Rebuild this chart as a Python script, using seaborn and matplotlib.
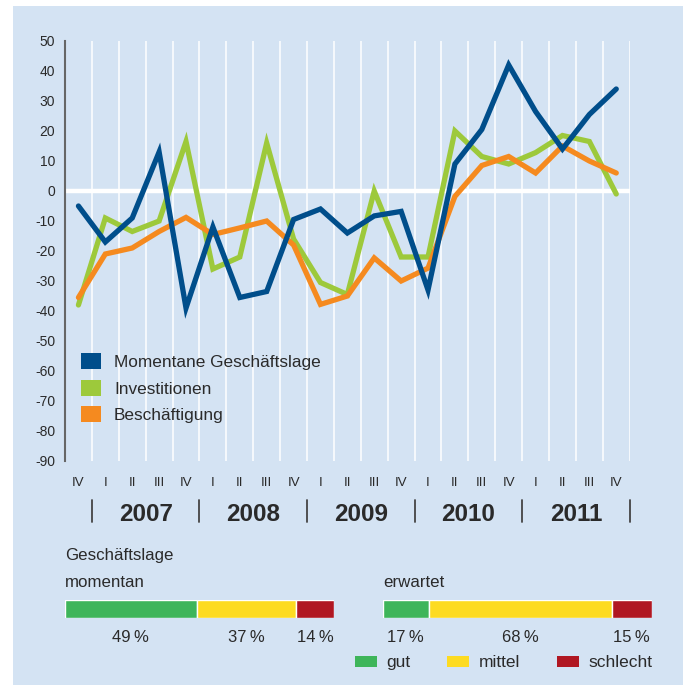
import numpy as np
import pandas as pd
import matplotlib
matplotlib.use("Agg")
import matplotlib.pyplot as plt
import seaborn as sns
from matplotlib.patches import Patch, Rectangle
from matplotlib.transforms import blended_transform_factory

# --- data ---
quartale = ["IV", "I", "II", "III", "IV", "I", "II", "III", "IV", "I", "II", "III",
            "IV", "I", "II", "III", "IV", "I", "II", "III", "IV"]
jahre = ["2007", "2008", "2009", "2010", "2011"]

geschaeftslage = [-5, -17, -9, 13, -39, -12, -35.5, -33.5, -9.5, -6, -14, -8.3,
                  -6.8, -33, 9, 20.5, 42, 26.5, 14, 25.5, 34]
investitionen = [-38, -9, -13.5, -10, 16.5, -26, -22, 16, -16, -30.5, -34.5, 0,
                 -22, -22, 20, 11.5, 9, 12.8, 18.5, 16.5, -1]
beschaeftigung = [-35.5, -21, -19, -13.5, -8.8, -14.5, -12.3, -10, -18, -37.8, -35, -22.3,
                  -30, -25.7, -1.8, 8.5, 11.5, 6, 15, 10, 6]

anteil_labels = ["gut", "mittel", "schlecht"]
momentan = [49, 37, 14]
erwartet = [17, 68, 15]

BG = "#d4e3f3"
TXT = "#2a2a2a"
serien_farben = {"Momentane Geschäftslage": "#004e8b",
                 "Investitionen": "#9dc93b",
                 "Beschäftigung": "#f58a1f"}
balken_farben = ["#3eb55a", "#fddb21", "#b01722"]

sns.set_style("white")
plt.rcParams["font.family"] = ["Liberation Sans", "DejaVu Sans"]

df = pd.concat([
    pd.DataFrame({"pos": range(len(quartale)), "wert": geschaeftslage, "reihe": "Momentane Geschäftslage"}),
    pd.DataFrame({"pos": range(len(quartale)), "wert": investitionen, "reihe": "Investitionen"}),
    pd.DataFrame({"pos": range(len(quartale)), "wert": beschaeftigung, "reihe": "Beschäftigung"}),
], ignore_index=True)

fig = plt.figure(figsize=(6.88, 6.85), dpi=100)
fig.patch.set_facecolor("white")
fig.add_artist(Rectangle((13 / 688, 0), 670 / 688, 1 - 6 / 685, transform=fig.transFigure,
                         facecolor=BG, edgecolor="none", zorder=0))

# --- main line chart ---
ax = fig.add_axes([65 / 688, 1 - 461 / 685, 564.7 / 688, 420 / 685])
ax.set_facecolor("none")
n = len(quartale)
ax.set_xlim(-0.5, n - 0.5)
ax.set_ylim(-90, 50)

ax.vlines(np.arange(n) + 0.5, -90, 50, color="white", lw=1.1, zorder=1)
ax.axhline(0, color="white", lw=3.2, zorder=1)

sns.lineplot(data=df, x="pos", y="wert", hue="reihe",
             hue_order=["Investitionen", "Beschäftigung", "Momentane Geschäftslage"],
             palette=serien_farben, linewidth=3.8, legend=False, sort=False, ax=ax,
             solid_joinstyle="miter", solid_capstyle="round", zorder=3)

for s in ["top", "right", "bottom"]:
    ax.spines[s].set_visible(False)
ax.spines["left"].set_color("#666666")
ax.spines["left"].set_linewidth(1.5)

yt = np.arange(-90, 51, 10)
ax.set_yticks(yt)
ax.set_yticklabels([str(v) for v in yt])
ax.set_xticks(range(n))
ax.set_xticklabels(quartale)
ax.tick_params(axis="y", length=0, pad=7, labelsize=10, labelcolor=TXT)
ax.tick_params(axis="x", length=0, pad=11.5, labelsize=9.5, labelcolor=TXT)
ax.set_xlabel("")
ax.set_ylabel("")
ax.grid(False)

trans = blended_transform_factory(ax.transData, ax.transAxes)
for i, j in enumerate(jahre):
    mitte = np.mean(np.arange(1 + 4 * i, 5 + 4 * i))
    ax.text(mitte, -0.1429, j, transform=trans, ha="center", va="baseline",
            fontsize=17.5, fontweight="bold", color=TXT)
for i in range(len(jahre) + 1):
    ax.plot([0.5 + 4 * i] * 2, [-0.093, -0.145], transform=trans, color="#444444",
            lw=1.3, clip_on=False)

handles = [Patch(facecolor=serien_farben[k], edgecolor="none")
           for k in ["Momentane Geschäftslage", "Investitionen", "Beschäftigung"]]
ax.legend(handles, ["Momentane Geschäftslage", "Investitionen", "Beschäftigung"],
          loc="upper left", bbox_to_anchor=(0.0283, 0.256), frameon=False,
          borderpad=0, borderaxespad=0, fontsize=12.4, handlelength=1.16, handleheight=1.04,
          handletextpad=0.76, labelspacing=0.55, labelcolor=TXT)

# --- stacked bars ---
def balken(links, werte, titel):
    bx = fig.add_axes([links / 688, 1 - 617.7 / 685, 269 / 688, 17.7 / 685])
    bx.set_facecolor("none")
    start = np.cumsum([0] + werte[:-1])
    bx.barh([0] * len(werte), werte, left=start, height=1, color=balken_farben)
    bx.set_xlim(0, 100)
    bx.set_ylim(-0.5, 0.5)
    bx.axis("off")
    for s, w in zip(start, werte):
        bx.text(s + w / 2, -1.345, f"{w}\u2009%", transform=blended_transform_factory(bx.transData, bx.transAxes),
                ha="center", va="baseline", fontsize=12, color=TXT)
    fig.text(links / 688, 1 - 586.7 / 685, titel, fontsize=12.2, color=TXT, va="baseline")
    return bx

balken(65, momentan, "momentan")
bx2 = balken(383, erwartet, "erwartet")
fig.text(65 / 688, 1 - 560 / 685, "Geschäftslage", fontsize=12.2, color=TXT, va="baseline")

bx2.legend([Patch(facecolor=c, edgecolor="none") for c in balken_farben], anteil_labels,
           loc="upper right", bbox_to_anchor=(1.0, -2.135), ncol=3, frameon=False,
           borderpad=0, borderaxespad=0, fontsize=12.5, handlelength=1.26, handleheight=0.63,
           handletextpad=0.52, columnspacing=2.15, labelcolor=TXT)

fig.savefig("out.png", dpi=100)
